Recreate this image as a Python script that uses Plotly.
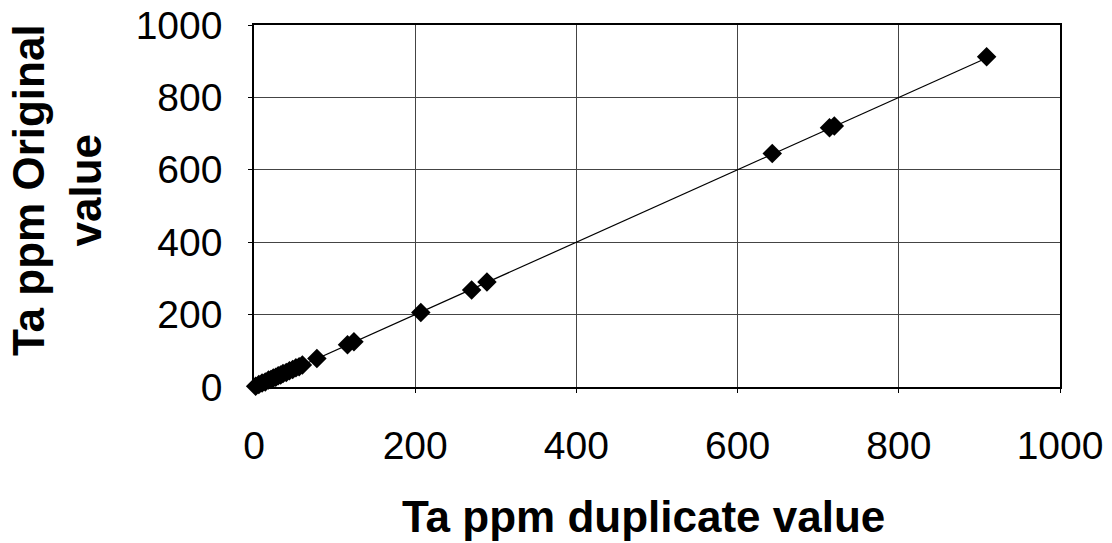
import plotly.graph_objects as go

x_dup = [2, 6, 10, 14, 18, 21, 24, 27, 30, 33, 36, 40, 44, 48, 52, 56, 60,
         78, 116, 124, 207, 270, 289, 643, 714, 720, 909]
y_orig = [2, 7, 11, 14, 19, 21, 25, 27, 31, 33, 37, 40, 45, 48, 53, 56, 61,
          79, 117, 125, 206, 268, 290, 645, 716, 721, 912]

x_ticks = [0, 200, 400, 600, 800, 1000]
y_ticks = [0, 200, 400, 600, 800, 1000]

line_x = [min(x_dup), max(x_dup)]
line_y = [min(x_dup), max(x_dup)]

font_family = "Liberation Sans, Arial, sans-serif"

fig = go.Figure()
fig.add_trace(go.Scatter(x=line_x, y=line_y, mode="lines",
                         line=dict(color="black", width=1.2), showlegend=False,
                         hoverinfo="skip"))
fig.add_trace(go.Scatter(x=x_dup, y=y_orig, mode="markers", cliponaxis=False,
                         marker=dict(symbol="diamond", size=15, color="black"),
                         showlegend=False))

fig.update_layout(
    width=1112, height=543,
    margin=dict(l=254, r=52, t=25, b=156),
    paper_bgcolor="white", plot_bgcolor="white",
    font=dict(family=font_family, color="black"),
    xaxis=dict(range=[0, 1000], tickvals=x_ticks, showgrid=True,
               gridcolor="#444", gridwidth=1, showline=True, linecolor="black",
               linewidth=1.5, mirror=True, zeroline=False,
               ticks="outside", ticklen=4, tickcolor="black",
               ticklabelstandoff=19, automargin=False,
               tickfont=dict(size=39, family=font_family), fixedrange=True),
    yaxis=dict(range=[0, 1000], tickvals=y_ticks, showgrid=True,
               gridcolor="#444", gridwidth=1, showline=True, linecolor="black",
               linewidth=1.5, mirror=True, zeroline=False,
               ticks="outside", ticklen=4, tickcolor="black",
               ticklabelstandoff=18, automargin=False,
               tickfont=dict(size=39, family=font_family), fixedrange=True),
    annotations=[
        dict(text="<b>Ta ppm duplicate value</b>", xref="paper", yref="paper",
             x=(643 - 254) / 806, y=-(516 - 387) / 362, xanchor="center", yanchor="middle",
             showarrow=False, font=dict(size=44, family=font_family)),
        dict(text="<b>Ta ppm Original<br>value</b>", xref="paper", yref="paper",
             x=-(254 - 57) / 806, y=(387 - 190) / 362, xanchor="center", yanchor="middle",
             textangle=-90, showarrow=False, font=dict(size=44, family=font_family)),
    ],
)

fig.write_html("out.html")
